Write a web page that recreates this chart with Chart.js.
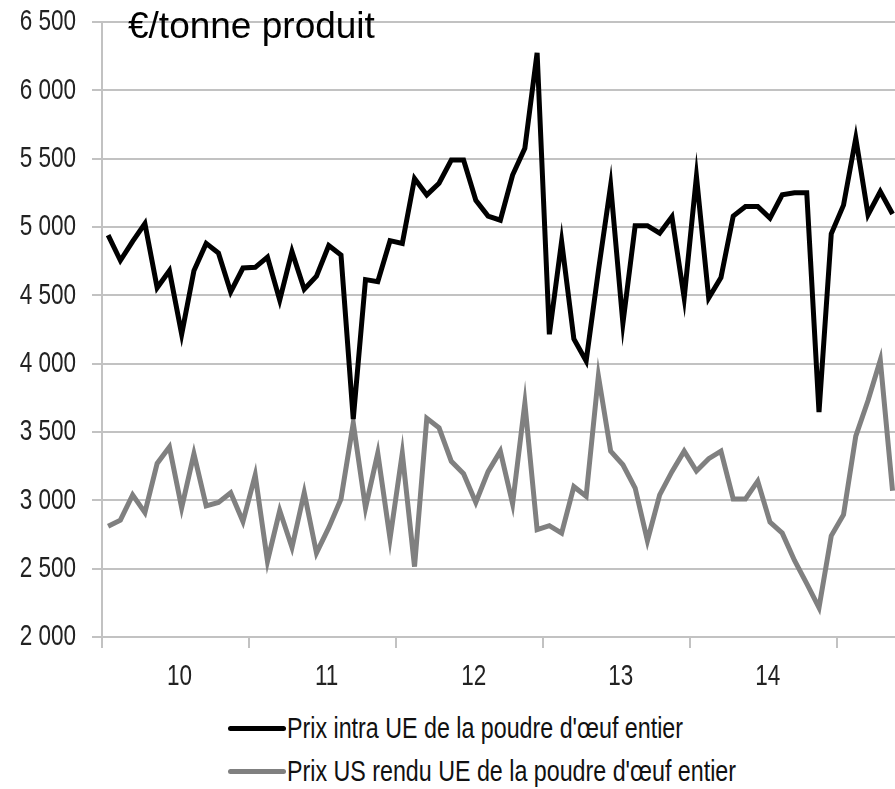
<!DOCTYPE html>
<html>
<head>
<meta charset="utf-8">
<script src="https://cdn.jsdelivr.net/npm/chart.js@4.4.1/dist/chart.umd.min.js"></script>
<style>
  body { margin: 0; background: #fff; }
  #wrap { position: relative; width: 895px; height: 789px; overflow: hidden; }
  #graph { position: absolute; left: 0; top: 0; }
  #title { position: absolute; left: 128px; top: 8px; font: 37px/36px 'Liberation Sans', Arial, sans-serif; color: #000; white-space: nowrap; }
  .leg { position: absolute; left: 228px; height: 42px; display: flex; align-items: center; white-space: nowrap;
         font: 30px 'Liberation Sans', Arial, sans-serif; color: #111; }
  .leg .sw { display: inline-block; width: 58px; height: 5px; border-radius: 3px; margin-right: 1px; }
  .leg .txt { display: inline-block; transform-origin: left center; }
</style>
</head>
<body>
<div id="wrap">
  <canvas id="graph" width="895" height="700"></canvas>
  <div id="title">€/tonne produit</div>
  <div class="leg" style="top:707px"><span class="sw" style="background:#000"></span><span class="txt">Prix intra UE de la poudre d'œuf entier</span></div>
  <div class="leg" style="top:750px"><span class="sw" style="background:#808080"></span><span class="txt">Prix US rendu UE de la poudre d'œuf entier</span></div>
</div>
<script>
// années affichées sous l'axe (un point = un mois, janv. 2010 -> mai 2015)
const yearLabels = ['10', '11', '12', '13', '14'];
const seriesNames = ["Prix intra UE de la poudre d'œuf entier", "Prix US rendu UE de la poudre d'œuf entier"];

// €/tonne produit, mensuel
const prixIntraUE = [
  4940, 4755, 4895, 5025, 4555, 4680, 4215, 4680, 4880, 4810, 4525, 4700,
  4705, 4780, 4465, 4820, 4545, 4640, 4865, 4795, 3595, 4615, 4600, 4900,
  4880, 5355, 5235, 5320, 5490, 5490, 5195, 5080, 5050, 5380, 5575, 6275,
  4215, 4895, 4180, 4020, 4680, 5305, 4295, 5010, 5010, 4955, 5075, 4480,
  5370, 4480, 4630, 5080, 5150, 5150, 5065, 5235, 5250, 5250, 3645, 4950,
  5160, 5650, 5090, 5260, 5095
];
const prixUSRenduUE = [
  2810, 2855, 3040, 2910, 3270, 3390, 2945, 3340, 2960, 2985, 3055, 2845,
  3185, 2555, 2925, 2655, 3055, 2615, 2800, 3010, 3565, 2945, 3345, 2720,
  3345, 2515, 3600, 3530, 3285, 3195, 2985, 3210, 3360, 2975, 3710, 2785,
  2815, 2760, 3100, 3030, 3910, 3360, 3260, 3090, 2705, 3040, 3210, 3360,
  3215, 3305, 3360, 3010, 3010, 3140, 2840, 2760, 2560, 2390, 2215, 2740,
  2895, 3470, 3730, 4025, 3070
];

const gridGrey = '#c2c2c2';
const labelFont = "30px 'Liberation Sans', Arial, sans-serif";

function fmt(v) {
  return String(v).replace(/\B(?=(\d{3})+(?!\d))/g, ' ');
}

// étiquettes d'axes en police étroite (style Arial Narrow)
const narrowLabels = {
  id: 'narrowLabels',
  afterDraw(chart) {
    const c = chart.ctx, xs = chart.scales.x, ys = chart.scales.y, a = chart.chartArea;
    c.save();
    c.fillStyle = '#222';
    c.font = labelFont;
    c.textBaseline = 'middle';
    c.textAlign = 'right';
    ys.ticks.forEach(t => {
      c.save();
      c.translate(a.left - 26, ys.getPixelForValue(t.value));
      c.scale(0.75, 1);
      c.fillText(fmt(t.value), 0, 0);
      c.restore();
    });
    c.textAlign = 'center';
    yearLabels.forEach((lab, k) => {
      c.save();
      c.translate(xs.getPixelForValue(k * 12 + 5.5) + 4, a.bottom + 40);
      c.scale(0.75, 1);
      c.fillText(lab, 0, 0);
      c.restore();
    });
    c.restore();
  }
};

const ctx = document.getElementById('graph').getContext('2d');
const chart = new Chart(ctx, {
  type: 'line',
  data: {
    datasets: [{
      label: seriesNames[0],
      data: prixIntraUE.map((v, i) => ({ x: i, y: v })),
      borderColor: '#000',
      borderWidth: 5,
      pointRadius: 0,
      tension: 0
    }, {
      label: seriesNames[1],
      data: prixUSRenduUE.map((v, i) => ({ x: i, y: v })),
      borderColor: '#808080',
      borderWidth: 5,
      pointRadius: 0,
      tension: 0
    }]
  },
  options: {
    responsive: false,
    animation: false,
    layout: { padding: { left: 0, right: 0, top: 22, bottom: 52 } },
    plugins: { legend: { display: false }, tooltip: { enabled: false } },
    scales: {
      x: {
        type: 'linear',
        min: -0.5,
        max: 64.2,
        afterBuildTicks: (scale) => {
          const t = [];
          for (let k = 0; k <= yearLabels.length; k++) t.push({ value: k * 12 - 0.5 });
          scale.ticks = t;
        },
        grid: { drawOnChartArea: false, tickLength: 11, lineWidth: 2, color: gridGrey },
        border: { color: gridGrey, width: 2 },
        ticks: { display: false }
      },
      y: {
        min: 2000,
        max: 6500,
        afterFit: (scale) => { scale.width = 102; },
        grid: { color: gridGrey, lineWidth: 2, tickLength: 10 },
        border: { color: gridGrey, width: 2 },
        ticks: { display: false, stepSize: 500 }
      }
    }
  },
  plugins: [narrowLabels]
});

// légende : même compression horizontale que le graphique d'origine
const txts = document.querySelectorAll('.leg .txt');
const k = 396 / txts[0].getBoundingClientRect().width;
txts.forEach(el => { el.style.transform = 'scaleX(' + k + ')'; });
</script>
</body>
</html>
